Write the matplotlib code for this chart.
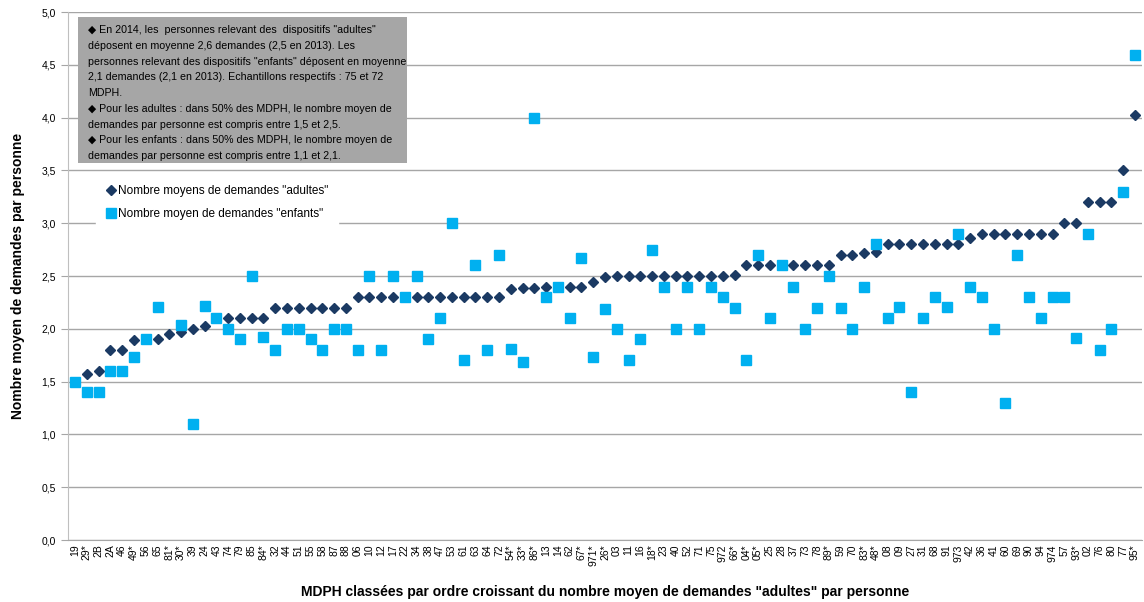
import numpy as np
import matplotlib
matplotlib.use("Agg")
import matplotlib.pyplot as plt
from matplotlib.patches import Rectangle
from matplotlib.ticker import FuncFormatter

plt.rcParams['font.family'] = ['Liberation Sans', 'DejaVu Sans']

# MDPH, ordered by mean number of "adultes" requests
mdph = ['19', '29*', '2B', '2A', '46', '49*', '56', '65', '81*', '30*',
        '39', '24', '43', '74', '79', '85', '84*', '32', '44', '51',
        '55', '58', '87', '88', '06', '10', '12', '17', '22', '34',
        '38', '47', '53', '61', '63', '64', '72', '54*', '33*', '86*',
        '13', '14', '62', '67*', '971*', '26*', '03', '11', '16', '18*',
        '23', '40', '52', '71', '75', '972', '66*', '04*', '05*', '25',
        '28', '37', '73', '78', '89*', '59', '70', '83*', '48*', '08',
        '09', '27', '31', '68', '91', '973', '42', '36', '41', '60',
        '69', '90', '94', '974', '57', '93*', '02', '76', '80', '77', '95*']

adultes = [1.50, 1.57, 1.60, 1.80, 1.80, 1.89, 1.90, 1.90, 1.95, 1.97,
           2.00, 2.03, 2.10, 2.10, 2.10, 2.10, 2.10, 2.20, 2.20, 2.20,
           2.20, 2.20, 2.20, 2.20, 2.30, 2.30, 2.30, 2.30, 2.30, 2.30,
           2.30, 2.30, 2.30, 2.30, 2.30, 2.30, 2.30, 2.38, 2.39, 2.39,
           2.40, 2.40, 2.40, 2.40, 2.44, 2.49, 2.50, 2.50, 2.50, 2.50,
           2.50, 2.50, 2.50, 2.50, 2.50, 2.50, 2.51, 2.60, 2.60, 2.60,
           2.60, 2.60, 2.60, 2.60, 2.60, 2.70, 2.70, 2.72, 2.73, 2.80,
           2.80, 2.80, 2.80, 2.80, 2.80, 2.80, 2.86, 2.90, 2.90, 2.90,
           2.90, 2.90, 2.90, 2.90, 3.00, 3.00, 3.20, 3.20, 3.20, 3.50, 4.02]

enfants = [1.50, 1.40, 1.40, 1.60, 1.60, 1.73, 1.90, 2.21, np.nan, 2.04,
           1.10, 2.22, 2.10, 2.00, 1.90, 2.50, 1.92, 1.80, 2.00, 2.00,
           1.90, 1.80, 2.00, 2.00, 1.80, 2.50, 1.80, 2.50, 2.30, 2.50,
           1.90, 2.10, 3.00, 1.70, 2.60, 1.80, 2.70, 1.81, 1.69, 4.00,
           2.30, 2.40, 2.10, 2.67, 1.73, 2.19, 2.00, 1.70, 1.90, 2.75,
           2.40, 2.00, 2.40, 2.00, 2.40, 2.30, 2.20, 1.70, 2.70, 2.10,
           2.60, 2.40, 2.00, 2.20, 2.50, 2.20, 2.00, 2.40, 2.80, 2.10,
           2.21, 1.40, 2.10, 2.30, 2.21, 2.90, 2.40, 2.30, 2.00, 1.30,
           2.70, 2.30, 2.10, 2.30, 2.30, 1.91, 2.90, 1.80, 2.00, 3.30, 4.59]

note = ('\u25c6 En 2014, les  personnes relevant des  dispositifs "adultes"\n'
        'déposent en moyenne 2,6 demandes (2,5 en 2013). Les\n'
        'personnes relevant des dispositifs "enfants" déposent en moyenne\n'
        '2,1 demandes (2,1 en 2013). Echantillons respectifs : 75 et 72\n'
        'MDPH.\n'
        '\u25c6 Pour les adultes : dans 50% des MDPH, le nombre moyen de\n'
        'demandes par personne est compris entre 1,5 et 2,5.\n'
        '\u25c6 Pour les enfants : dans 50% des MDPH, le nombre moyen de\n'
        'demandes par personne est compris entre 1,1 et 2,1.')

W, H = 1144, 602
x = np.arange(len(mdph))

fig = plt.figure(figsize=(W / 100, H / 100), dpi=100)
ax = fig.add_axes([68 / W, 62 / H, 1074 / W, 528 / H])

ax.plot(x, adultes, linestyle='none', marker='D', markersize=5,
        color='#1B3A63', label='Nombre moyens de demandes "adultes"', zorder=3)
ax.plot(x, enfants, linestyle='none', marker='s', markersize=7,
        color='#00B0F0', label='Nombre moyen de demandes "enfants"', zorder=4)

ax.set_xlim(-0.6, len(mdph) - 0.4)
ax.set_ylim(0, 5)
ax.set_yticks(np.arange(0, 5.01, 0.5))
ax.yaxis.set_major_formatter(FuncFormatter(lambda v, p: f'{v:.1f}'.replace('.', ',')))
ax.set_xticks(x)
ax.set_xticklabels(mdph, rotation=90, fontsize=7.5)
ax.tick_params(axis='y', labelsize=7.5, length=5, color='#A6A6A6')
ax.tick_params(axis='x', length=0, pad=3)

ax.grid(axis='y', color='#A6A6A6', linewidth=1)
ax.set_axisbelow(True)
for side in ['top', 'right']:
    ax.spines[side].set_visible(False)
ax.spines['left'].set_color('#BFBFBF')
ax.spines['bottom'].set_color('#A6A6A6')

ax.set_ylabel('Nombre moyen de demandes par personne', fontsize=10,
              fontweight='bold', labelpad=12)
ax.set_xlabel('MDPH classées par ordre croissant du nombre moyen de demandes "adultes" par personne',
              fontsize=10, fontweight='bold', labelpad=14)

leg = ax.legend(loc='upper left', bbox_to_anchor=(22 / 1074, (540 - 170) / 528),
                frameon=True, fancybox=False, fontsize=8.5, handletextpad=0.1,
                labelspacing=0.9, borderpad=0.8, handlelength=1.0)
leg.get_frame().set_facecolor('white')
leg.get_frame().set_edgecolor('white')
leg.get_frame().set_alpha(1)

# grey note box
fig.patches.append(Rectangle((78 / W, 1 - 163 / H), 329 / W, 146 / H,
                             transform=fig.transFigure, facecolor='#A6A6A6',
                             edgecolor='none', zorder=5))
fig.text(88 / W, 1 - 25 / H, note, fontsize=7.7, va='top', ha='left',
         linespacing=1.72, zorder=6)

fig.savefig('out.png', dpi=100)
